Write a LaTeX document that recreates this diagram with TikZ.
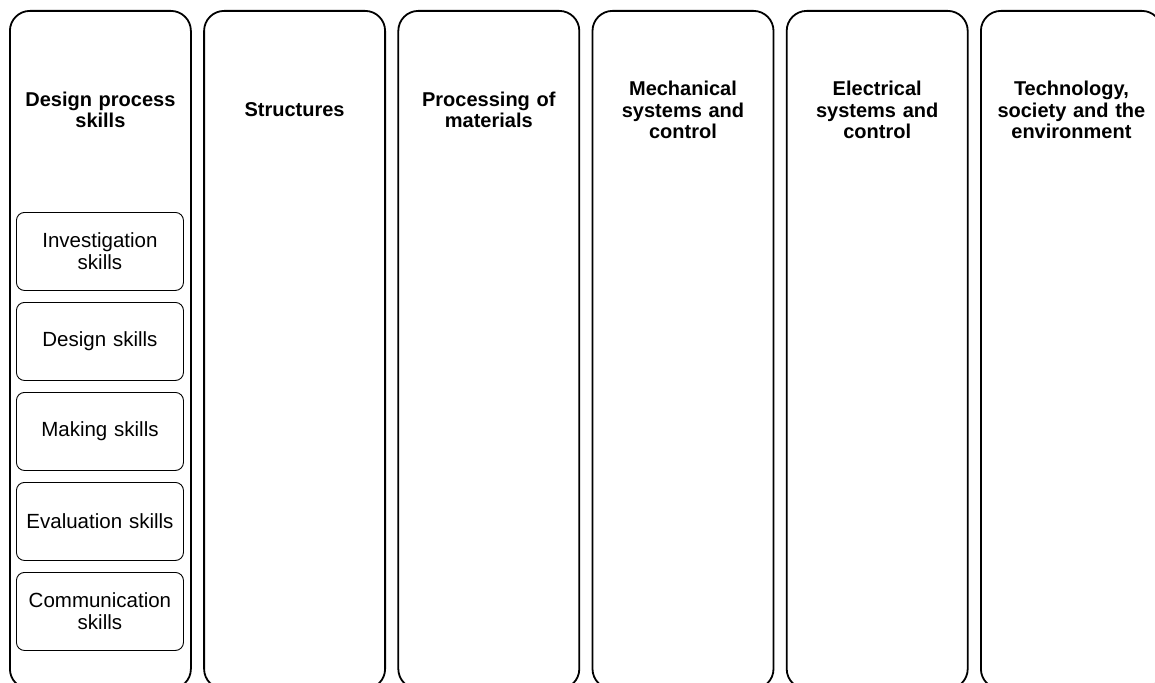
\documentclass[tikz,border=0pt]{standalone}
\usepackage{fontspec}
\setmainfont{Liberation Sans}
\begin{document}
\begin{tikzpicture}[x=1pt,y=-1pt,
  column/.style={draw=black, line width=1.8pt, rounded corners=20pt, minimum width=181pt, minimum height=678pt, inner sep=0pt, anchor=north west},
  header/.style={font=\fontsize{20}{21.5}\selectfont\bfseries, align=center, text width=178pt, anchor=center},
  skillbox/.style={draw=black, line width=0.9pt, rounded corners=8pt, minimum width=167pt, minimum height=78pt, inner sep=0pt, anchor=north west, align=center, font=\fontsize{20.5}{22}\selectfont, text width=160pt}]
\useasboundingbox (0,0) rectangle (1155,682);
\clip (0,0) rectangle (1155,682);
\fill[white] (0,0) rectangle (1155,682);
\foreach \i/\name in {0/c1,1/c2,2/c3,3/c4,4/c5,5/c6}{
  \node[column] (\name) at ({9+194.2*\i},10) {};
}
\node[header] (h1) at ([yshift=-100pt]c1.north) {Design process\\skills};
\node[header] (h2) at ([yshift=-100pt]c2.north) {Structures};
\node[header] (h3) at ([yshift=-100pt]c3.north) {Processing of\\materials};
\node[header] (h4) at ([yshift=-100pt]c4.north) {Mechanical\\systems and\\control};
\node[header] (h5) at ([yshift=-100pt]c5.north) {Electrical\\systems and\\control};
\node[header] (h6) at ([yshift=-100pt]c6.north) {Technology,\\society and the\\environment};
\node[skillbox] (s1) at (16,212) {Investigation\\skills};
\node[skillbox] (s2) at (16,302) {Design skills};
\node[skillbox] (s3) at (16,392) {Making skills};
\node[skillbox] (s4) at (16,482) {Evaluation skills};
\node[skillbox] (s5) at (16,572) {Communication\\skills};
\end{tikzpicture}
\end{document}
